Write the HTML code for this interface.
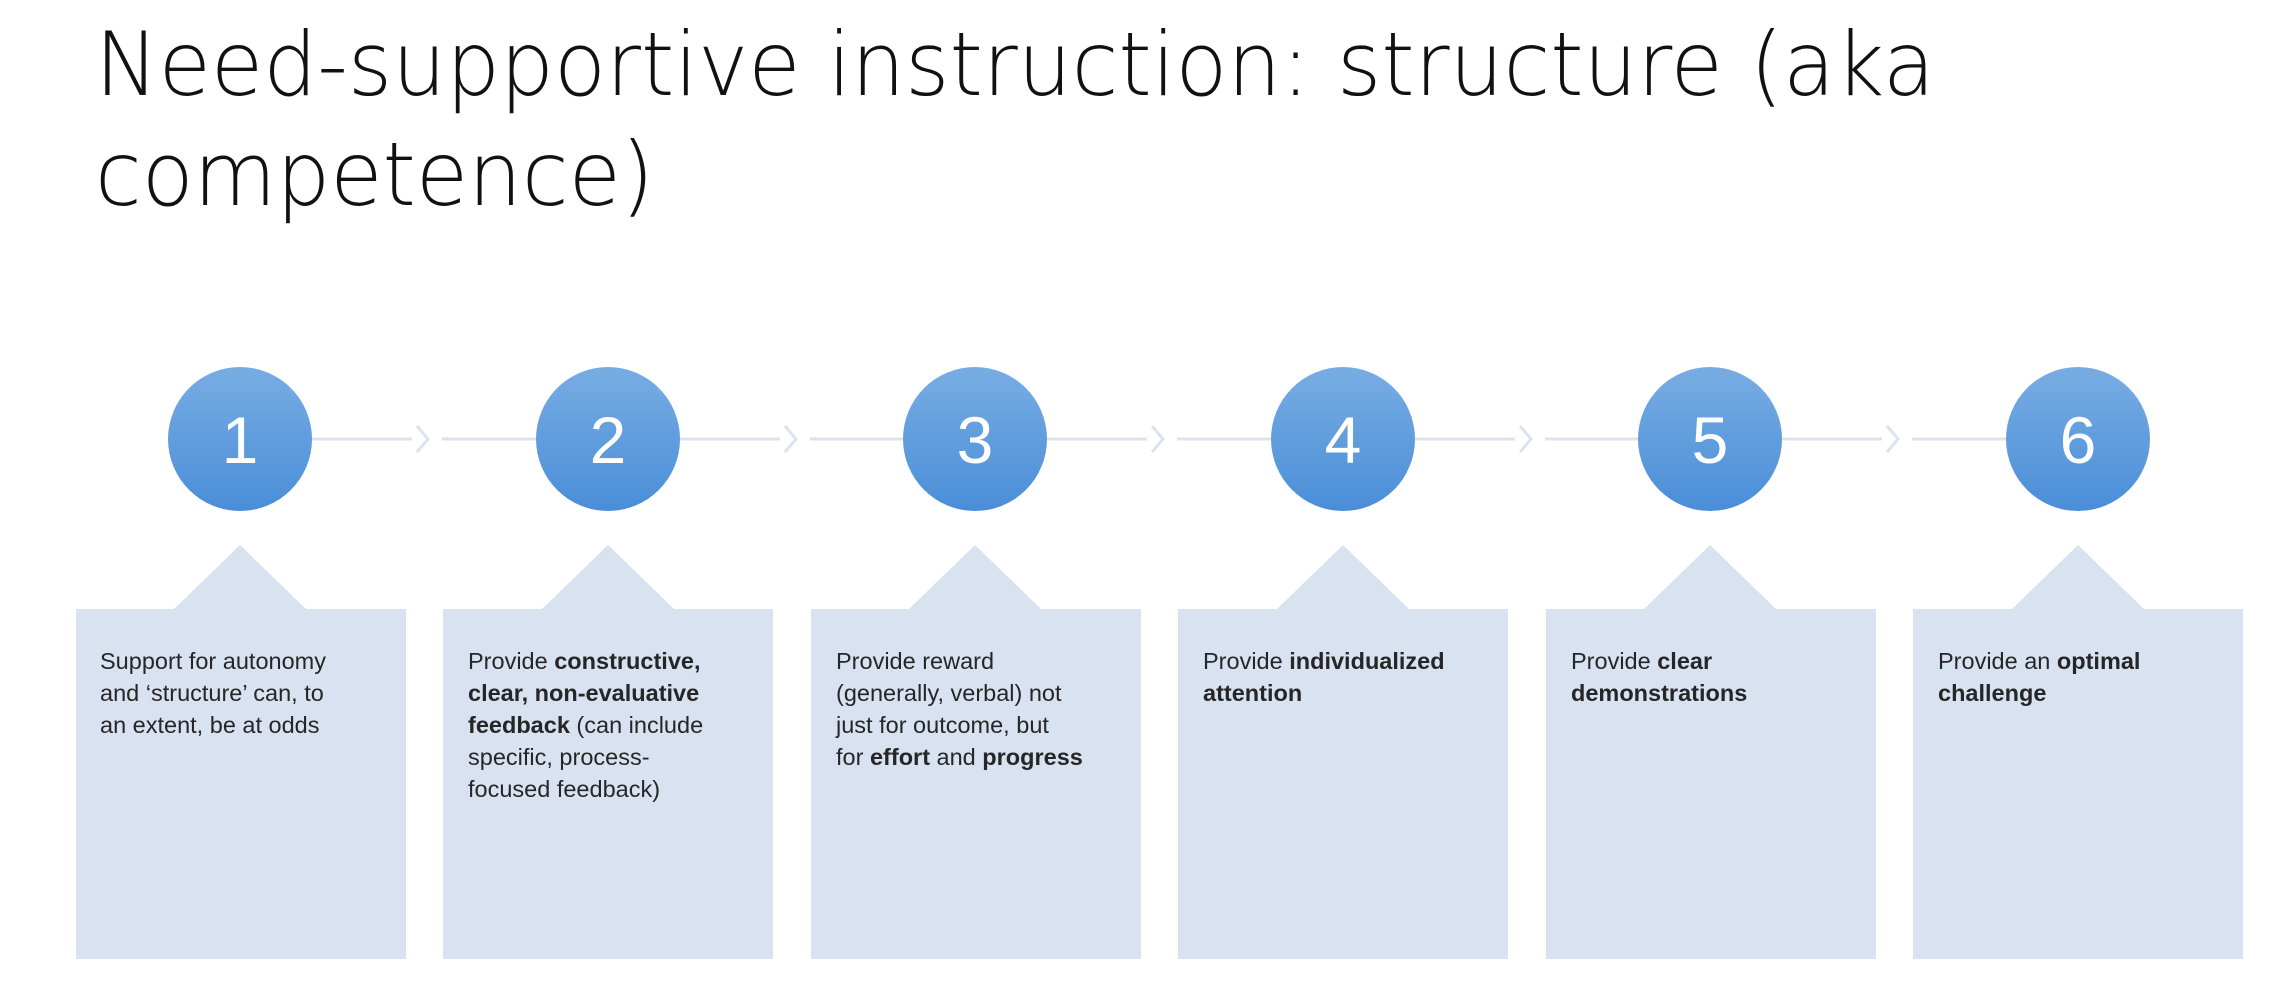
<!DOCTYPE html>
<html><head><meta charset="utf-8"><style>
html,body{margin:0;padding:0;background:#fff;}
svg{display:block;}
text{font-family:"Liberation Sans",sans-serif;}
.t{font-family:"DejaVu Sans","Liberation Sans",sans-serif;font-weight:200;}
.b{font-size:23.5px;fill:#262626;}
.bb{font-weight:bold;}
</style></head><body>
<svg width="2296" height="984" viewBox="0 0 2296 984" xmlns="http://www.w3.org/2000/svg">
<defs>
<linearGradient id="g" x1="0" y1="0" x2="0" y2="1">
<stop offset="0" stop-color="#78ade3"/><stop offset="1" stop-color="#4a8ed8"/>
</linearGradient>
</defs>
<text class="t" x="95" y="95" font-size="88" fill="#111" textLength="1840" lengthAdjust="spacingAndGlyphs">Need-supportive instruction: structure (aka</text>
<text class="t" x="95" y="205" font-size="88" fill="#111" textLength="559" lengthAdjust="spacingAndGlyphs">competence)</text>

<g stroke="#dde3ee" stroke-width="3" fill="none">
<line x1="312" y1="439" x2="412" y2="439"/><line x1="442" y1="439" x2="536" y2="439"/>
<line x1="680" y1="439" x2="780" y2="439"/><line x1="810" y1="439" x2="903" y2="439"/>
<line x1="1047" y1="439" x2="1147" y2="439"/><line x1="1177" y1="439" x2="1271" y2="439"/>
<line x1="1415" y1="439" x2="1515" y2="439"/><line x1="1545" y1="439" x2="1638" y2="439"/>
<line x1="1782" y1="439" x2="1882" y2="439"/><line x1="1912" y1="439" x2="2006" y2="439"/>
<polyline points="417,426 428,439 417,452"/><polyline points="785,426 796,439 785,452"/>
<polyline points="1152,426 1163,439 1152,452"/><polyline points="1520,426 1531,439 1520,452"/>
<polyline points="1887,426 1898,439 1887,452"/>
</g>

<g fill="url(#g)">
<circle cx="240" cy="439" r="72"/><circle cx="608" cy="439" r="72"/><circle cx="975" cy="439" r="72"/>
<circle cx="1343" cy="439" r="72"/><circle cx="1710" cy="439" r="72"/><circle cx="2078" cy="439" r="72"/>
</g>
<g fill="#fff" font-size="66" text-anchor="middle">
<text x="240" y="463">1</text><text x="608" y="463">2</text><text x="975" y="463">3</text>
<text x="1343" y="463">4</text><text x="1710" y="463">5</text><text x="2078" y="463">6</text>
</g>

<g fill="#d9e2f1">
<rect x="76" y="609" width="330" height="350"/><polygon points="174,609 240,545 306,609"/>
<rect x="443" y="609" width="330" height="350"/><polygon points="542,609 608,545 674,609"/>
<rect x="811" y="609" width="330" height="350"/><polygon points="909,609 975,545 1041,609"/>
<rect x="1178" y="609" width="330" height="350"/><polygon points="1277,609 1343,545 1409,609"/>
<rect x="1546" y="609" width="330" height="350"/><polygon points="1644,609 1710,545 1776,609"/>
<rect x="1913" y="609" width="330" height="350"/><polygon points="2012,609 2078,545 2144,609"/>
</g>

<g class="b">
<text x="100" y="669">Support for autonomy</text>
<text x="100" y="701">and ‘structure’ can, to</text>
<text x="100" y="733">an extent, be at odds</text>

<text x="468" y="669">Provide <tspan class="bb">constructive,</tspan></text>
<text x="468" y="701" class="bb">clear, non-evaluative</text>
<text x="468" y="733"><tspan class="bb">feedback</tspan> (can include</text>
<text x="468" y="765">specific, process-</text>
<text x="468" y="797">focused feedback)</text>

<text x="836" y="669">Provide reward</text>
<text x="836" y="701">(generally, verbal) not</text>
<text x="836" y="733">just for outcome, but</text>
<text x="836" y="765">for <tspan class="bb">effort</tspan> and <tspan class="bb">progress</tspan></text>

<text x="1203" y="669">Provide <tspan class="bb">individualized</tspan></text>
<text x="1203" y="701" class="bb">attention</text>

<text x="1571" y="669">Provide <tspan class="bb">clear</tspan></text>
<text x="1571" y="701" class="bb">demonstrations</text>

<text x="1938" y="669">Provide an <tspan class="bb">optimal</tspan></text>
<text x="1938" y="701" class="bb">challenge</text>
</g>
</svg>
</body></html>
